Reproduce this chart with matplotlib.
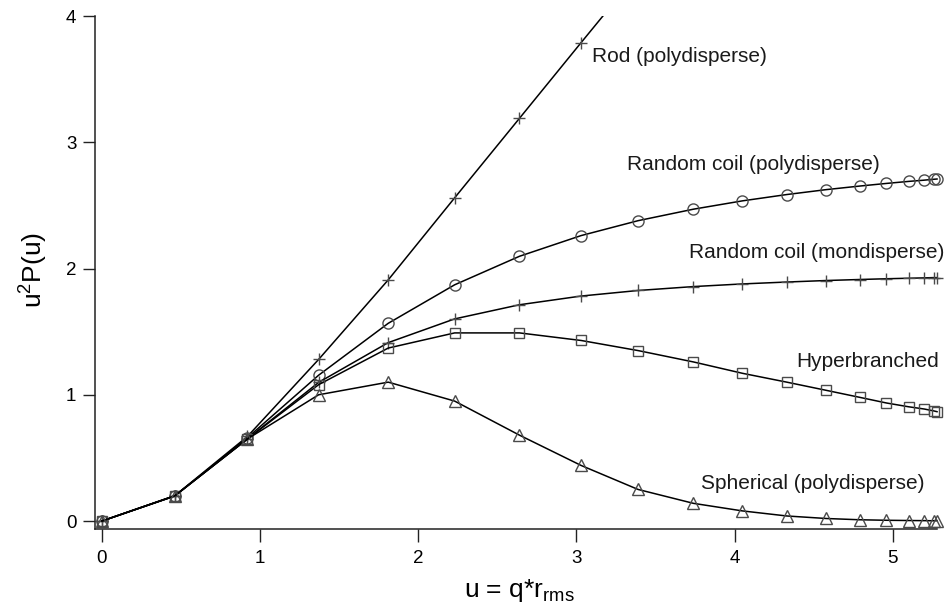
import matplotlib
matplotlib.use('Agg')
import matplotlib.pyplot as plt

plt.rcParams['font.family'] = ['Liberation Sans', 'DejaVu Sans']

# u values (x positions of the sample points)
u = [0, 0.46, 0.92, 1.37, 1.81, 2.23, 2.64, 3.03, 3.39, 3.74, 4.05,
     4.33, 4.58, 4.79, 4.96, 5.10, 5.20, 5.26, 5.28]

# rod keeps rising, the part above 4 is cut off by the axes
u_rod = [0, 0.46, 0.92, 1.37, 1.81, 2.23, 2.64, 3.03, 3.39]
rod = [0, 0.20, 0.67, 1.28, 1.91, 2.56, 3.19, 3.79, 4.34]

coil_poly = [0, 0.198, 0.660, 1.155, 1.566, 1.871, 2.097, 2.261, 2.379, 2.470,
             2.536, 2.586, 2.625, 2.653, 2.674, 2.690, 2.700, 2.707, 2.709]

coil_mono = [0, 0.198, 0.651, 1.098, 1.413, 1.601, 1.713, 1.782, 1.826, 1.857,
             1.878, 1.893, 1.905, 1.913, 1.919, 1.923, 1.926, 1.928, 1.928]

hyper = [0, 0.20, 0.65, 1.08, 1.37, 1.49, 1.49, 1.43, 1.35, 1.26,
         1.17, 1.10, 1.035, 0.98, 0.935, 0.905, 0.887, 0.872, 0.866]

sphere = [0, 0.20, 0.65, 1.00, 1.10, 0.95, 0.68, 0.44, 0.25, 0.14,
          0.08, 0.04, 0.02, 0.01, 0.006, 0.004, 0.003, 0.002, 0.002]

labels = ['Rod (polydisperse)', 'Random coil (polydisperse)',
          'Random coil (mondisperse)', 'Hyperbranched', 'Spherical (polydisperse)']
label_x = [3.10, 3.32, 3.71, 4.39, 3.79]
label_y = [3.68, 2.82, 2.13, 1.26, 0.30]

fig = plt.figure(figsize=(9.51, 6.09), dpi=100)
ax = fig.add_axes([0.0999, 0.1314, 0.8854, 0.8423])

line_kw = dict(color='black', lw=1.1, mfc='none', mec='#4a4a4a', mew=1.0)

ax.plot(u_rod, rod, marker='+', ms=9, **line_kw)
ax.plot(u, coil_poly, marker='o', ms=8, clip_on=False, **line_kw)
ax.plot(u, coil_mono, marker='+', ms=9, clip_on=False, **line_kw)
ax.plot(u, hyper, marker='s', ms=7.5, clip_on=False, **line_kw)
ax.plot(u, sphere, marker='^', ms=8.5, clip_on=False, **line_kw)

for txt, tx, ty in zip(labels, label_x, label_y):
    ax.text(tx, ty, txt, fontsize=15, ha='left', va='center', color='#1a1a1a')

ax.set_xlim(-0.044, 5.28)
ax.set_ylim(-0.063, 4.0)
ax.set_xticks([0, 1, 2, 3, 4, 5])
ax.set_yticks([0, 1, 2, 3, 4])

for side in ['top', 'right']:
    ax.spines[side].set_visible(False)
for side in ['left', 'bottom']:
    ax.spines[side].set_linewidth(1.1)
    ax.spines[side].set_color('#222222')

ax.tick_params(axis='x', length=9, width=1.0, pad=6, labelsize=13.5, color='#222222')
ax.tick_params(axis='y', length=9, width=1.0, pad=4.5, labelsize=13.5, color='#222222')

fig.text(519 / 951, 1 - 590 / 609, r'u = q*r$_{\mathregular{rms}}$',
         fontsize=19, ha='center', va='center')
fig.text(33 / 951, 1 - 270 / 609, r'u$^{\mathregular{2}}$P(u)',
         fontsize=19, ha='center', va='center', rotation=90)

fig.savefig('out.png', dpi=100)
